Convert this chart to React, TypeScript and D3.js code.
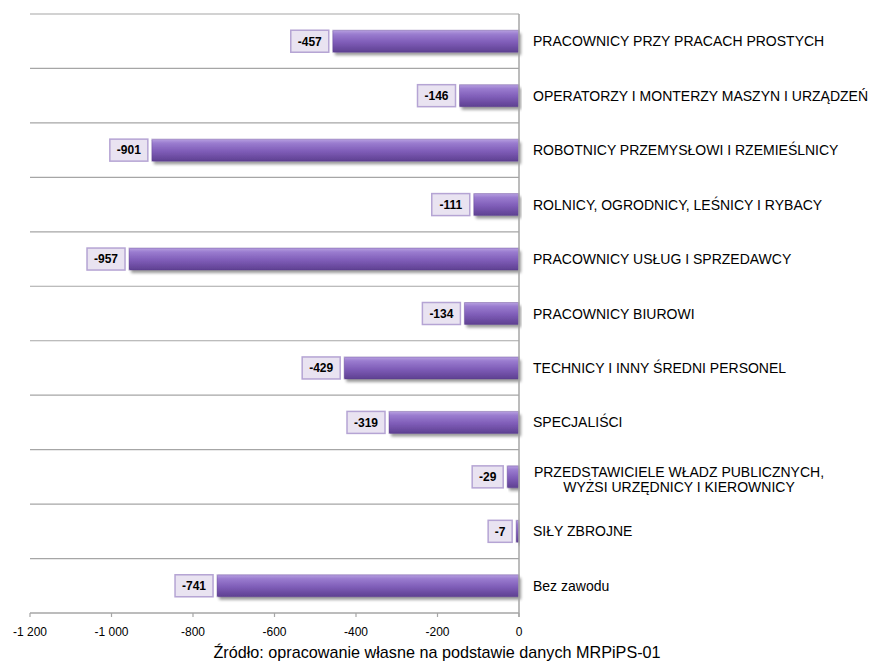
import React from 'react';
import * as d3 from 'd3';

const categories = [
  'PRACOWNICY PRZY PRACACH PROSTYCH',
  'OPERATORZY I MONTERZY MASZYN I URZĄDZEŃ',
  'ROBOTNICY PRZEMYSŁOWI I RZEMIEŚLNICY',
  'ROLNICY, OGRODNICY, LEŚNICY I RYBACY',
  'PRACOWNICY USŁUG I SPRZEDAWCY',
  'PRACOWNICY BIUROWI',
  'TECHNICY I INNY ŚREDNI PERSONEL',
  'SPECJALIŚCI',
  'PRZEDSTAWICIELE WŁADZ PUBLICZNYCH,\nWYŻSI URZĘDNICY I KIEROWNICY',
  'SIŁY ZBROJNE',
  'Bez zawodu',
];
const values = [-457, -146, -901, -111, -957, -134, -429, -319, -29, -7, -741];
const xTicks = [-1200, -1000, -800, -600, -400, -200, 0];
const source = 'Źródło: opracowanie własne na podstawie danych MRPiPS-01';

const W = 874;
const H = 668;
const left = 30;
const right = 519;
const top = 14;
const bottom = 613;

const fmt = (v: number) => {
  const s = Math.abs(v).toString().replace(/\B(?=(\d{3})+(?!\d))/g, ' ');
  return (v < 0 ? '-' : '') + s;
};

const App: React.FC = () => {
  const x = d3.scaleLinear().domain([-1200, 0]).range([left, right]);
  const y = d3.scaleBand<string>().domain(categories).range([top, bottom]);
  const barH = 22;
  const font = 'Arial, "Liberation Sans", sans-serif';

  return (
    <svg width={W} height={H} style={{ position: 'absolute', left: 0, top: 0 }}>
      <defs>
        <linearGradient id="barGrad" x1="0" y1="0" x2="0" y2="1">
          <stop offset="0" stopColor="#b7a0e0" />
          <stop offset="0.18" stopColor="#9a7ccf" />
          <stop offset="0.55" stopColor="#7f5db8" />
          <stop offset="1" stopColor="#5e4091" />
        </linearGradient>
        <filter id="shadow" x="-5%" y="-30%" width="110%" height="180%">
          <feGaussianBlur in="SourceAlpha" stdDeviation="1.5" />
          <feOffset dx="2" dy="3" result="b" />
          <feComponentTransfer>
            <feFuncA type="linear" slope="0.4" />
          </feComponentTransfer>
          <feMerge>
            <feMergeNode />
            <feMergeNode in="SourceGraphic" />
          </feMerge>
        </filter>
      </defs>
      <rect width={W} height={H} fill="#fff" />

      {/* grid lines between categories */}
      {categories.map((c, i) => (
        <line key={'g' + i} x1={left} x2={right} y1={(y(c) as number)} y2={(y(c) as number)}
          stroke="#a6a6a6" strokeWidth={1.2} />
      ))}

      {/* bars */}
      {values.map((v, i) => {
        const cy = (y(categories[i]) as number) + y.bandwidth() / 2;
        const x0 = x(v);
        const w = x(0) - x0;
        const label = fmt(v);
        const tw = label.length * 7 + 10;
        return (
          <g key={'b' + i}>
            <rect x={x0} y={cy - barH / 2} width={w} height={barH} fill="url(#barGrad)"
              filter="url(#shadow)" rx={1} />
            <rect x={x0} y={cy - barH / 2} width={w} height={barH} fill="none"
              stroke="#5a3d8c" strokeOpacity={0.4} strokeWidth={1} />
            <rect x={x0 - 4 - tw} y={cy - 11} width={tw} height={22} fill="#e9e3f1"
              stroke="#b5a4d4" strokeWidth={1.5} />
            <text x={x0 - 4 - tw / 2} y={cy} dy="0.36em" textAnchor="middle"
              fontFamily={font} fontWeight="bold" fontSize={12} fill="#000">{label}</text>
          </g>
        );
      })}

      {/* axes */}
      <line x1={x(0)} x2={x(0)} y1={top} y2={bottom + 4} stroke="#a6a6a6" strokeWidth={1.5} />
      <line x1={left} x2={right} y1={bottom} y2={bottom} stroke="#a6a6a6" strokeWidth={1.5} />
      {xTicks.map(t => (
        <g key={'t' + t}>
          <line x1={x(t)} x2={x(t)} y1={bottom} y2={bottom + 4} stroke="#a6a6a6" strokeWidth={1.2} />
          <text x={x(t)} y={632} dy="0.36em" textAnchor="middle" fontFamily={font}
            fontSize={12} fill="#000">{fmt(t)}</text>
        </g>
      ))}

      {/* category labels */}
      {categories.map((c, i) => {
        const cy = (y(c) as number) + y.bandwidth() / 2;
        const lines = c.split('\n');
        if (lines.length === 1) {
          return (
            <text key={'c' + i} x={533} y={cy} dy="0.36em" fontFamily={font} fontSize={14}
              fill="#000">{c}</text>
          );
        }
        return (
          <text key={'c' + i} x={679} y={cy} textAnchor="middle" fontFamily={font}
            fontSize={14} fill="#000">
            {lines.map((l, j) => (
              <tspan key={j} x={679} y={cy + (j === 0 ? 0 : 15)}>{l}</tspan>
            ))}
          </text>
        );
      })}

      <text x={437} y={652} dy="0.36em" textAnchor="middle" fontFamily={font} fontSize={16.2}
        fill="#000">{source}</text>
    </svg>
  );
};

export default App;
